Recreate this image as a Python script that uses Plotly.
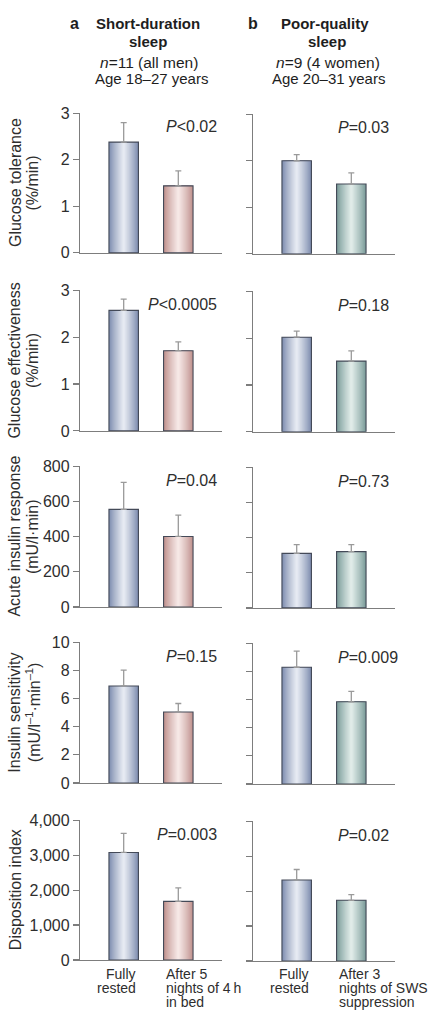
import plotly.graph_objects as go

W, H = 437, 1028
FONT = "Liberation Sans, Arial, sans-serif"
NARROW = "Liberation Sans Narrow, Liberation Sans, Arial, sans-serif"

# ---------------- data ----------------
measures = [
    "Glucose tolerance<br>(%/min)",
    "Glucose effectiveness<br>(%/min)",
    "Acute insulin response<br>(mU/l·min)",
    "Insulin sensitivity<br>(mU/l<sup>–1</sup>·min<sup>–1</sup>)",
    "Disposition index",
]
short_labels = ["Fully\nrested", "After 5\nnights of 4\u2009h\nin bed"]
poor_labels = ["Fully\nrested", "After 3\nnights of SWS\nsuppression"]

short_means = [[2.38, 1.44], [2.57, 1.71], [555, 401], [6.9, 5.05], [3080, 1680]]
short_errs = [[0.42, 0.32], [0.24, 0.19], [153, 121], [1.12, 0.60], [545, 386]]
short_p = ["<i>P</i><0.02", "<i>P</i><0.0005", "<i>P</i>=0.04", "<i>P</i>=0.15", "<i>P</i>=0.003"]

poor_means = [[2.00, 1.50], [2.02, 1.51], [310, 320], [8.3, 5.84], [2320, 1738]]
poor_errs = [[0.13, 0.24], [0.13, 0.22], [50, 40], [1.15, 0.74], [300, 160]]
poor_p = ["<i>P</i>=0.03", "<i>P</i>=0.18", "<i>P</i>=0.73", "<i>P</i>=0.009", "<i>P</i>=0.02"]

y_max = [3, 3, 800, 10, 4000]
y_step = [1, 1, 200, 2, 1000]

# ---------------- style ----------------
ROW_PX = [(107, 249), (287, 430), (466, 609), (645, 788), (826, 968)]
COL_PX = [(80, 222), (253, 395)]
COL_SHIFT = [0, 1]
BAR_W = 0.54
XR = [-0.8, 1.8]
AX = "#7d7d7d"
TXT = "#2e2e2e"
BLUE = ("#7d8cae", "#e6eaf2")
PINK = ("#bf908c", "#f6e8e6")
TEAL = ("#789a98", "#e0ebe8")
OUTLINE = "#444a58"


def rgb(h):
    h = h.lstrip("#")
    return tuple(int(h[i:i + 2], 16) for i in (0, 2, 4))


def mix(a, b, t):
    a, b = rgb(a), rgb(b)
    return "rgb(%d,%d,%d)" % tuple(round(a[i] + (b[i] - a[i]) * t) for i in range(3))


def py(px):
    return 1 - px / H


fig = go.Figure()
annotations = []
N = 14

for col in range(2):
    means_all = short_means if col == 0 else poor_means
    errs_all = short_errs if col == 0 else poor_errs
    p_all = short_p if col == 0 else poor_p
    labels = short_labels if col == 0 else poor_labels
    shades = [BLUE, PINK] if col == 0 else [BLUE, TEAL]
    for r in range(5):
        i = col * 5 + r + 1
        xa = "x" if i == 1 else f"x{i}"
        ya = "y" if i == 1 else f"y{i}"
        means = means_all[r]
        errs = errs_all[r]
        xs = [0, 1]
        # gradient layers
        for k in range(N):
            t = (k / (N - 1)) ** 0.85
            fig.add_trace(go.Bar(
                x=xs, y=means, width=BAR_W * (1 - k / N),
                marker=dict(color=[mix(shades[j][0], shades[j][1], t) for j in range(2)],
                            line=dict(width=0)),
                xaxis=xa, yaxis=ya, showlegend=False, hoverinfo="skip"))
        # outline + error bars
        fig.add_trace(go.Bar(
            x=xs, y=means, width=BAR_W,
            marker=dict(color="rgba(0,0,0,0)", line=dict(color=OUTLINE, width=1.1)),
            error_y=dict(type="data", symmetric=False, array=errs, arrayminus=[0, 0],
                         color="#9a9a9a", thickness=1.3, width=3),
            xaxis=xa, yaxis=ya, showlegend=False, hoverinfo="skip"))

        top, bot = ROW_PX[r]
        top += COL_SHIFT[col]
        bot += COL_SHIFT[col]
        x0, x1 = COL_PX[col]
        fig.layout[f"xaxis{i}"] = dict(
            domain=[x0 / W, x1 / W], range=XR, anchor=ya, showline=True,
            linecolor=AX, linewidth=1.2, showticklabels=False, ticks="",
            showgrid=False, zeroline=False, fixedrange=True)
        fig.layout[f"yaxis{i}"] = dict(
            domain=[py(bot), py(top)], range=[0, y_max[r]], anchor=xa,
            tickmode="linear", tick0=0, dtick=y_step[r],
            tickformat=",d" if y_max[r] >= 1000 else None,
            showline=True, linecolor=AX, linewidth=1.2, ticks="outside",
            ticklen=6, tickcolor=AX, tickwidth=1.2,
            showticklabels=(col == 0), tickfont=dict(family=FONT, size=16, color=TXT),
            showgrid=False, zeroline=False, fixedrange=True)

        # P value
        if col == 0:
            annotations.append(dict(text=p_all[r], xref="paper", yref="paper",
                                    x=219 / W, y=py(top + 14), xanchor="right", yanchor="middle",
                                    showarrow=False, font=dict(family=FONT, size=16, color=TXT)))
        else:
            annotations.append(dict(text=p_all[r], xref="paper", yref="paper",
                                    x=336 / W, y=py(top + 14), xanchor="left", yanchor="middle",
                                    showarrow=False, font=dict(family=FONT, size=16, color=TXT)))
        # y title, one annotation per line
        if col == 0:
            for li, line in enumerate(measures[r].split("<br>")):
                annotations.append(dict(text=line, xref="paper", yref="paper",
                                        x=(15 + li * 17.5) / W, y=py((top + bot) / 2),
                                        xanchor="center", yanchor="middle",
                                        textangle=-90, showarrow=False,
                                        font=dict(family=FONT, size=16, color=TXT)))
        # x labels (bottom row only)
        if r == 4:
            for j, lab in enumerate(labels):
                for li, line in enumerate(lab.split("\n")):
                    annotations.append(dict(
                        text=line, xref=xa, yref="paper",
                        x=(j - BAR_W / 2) if j == 1 else (j + BAR_W / 2),
                        xanchor="left" if j == 1 else "right",
                        y=py(982 + li * 14.6), yanchor="middle", showarrow=False,
                        font=dict(family=FONT, size=14, color=TXT)))

# headers
headers = [
    ("<b>a</b>", 74, 16, 16, FONT),
    ("<b>Short-duration</b>", 148, 16, 15, NARROW),
    ("<b>sleep</b>", 148, 34, 15, NARROW),
    ("<i>n</i>=11 (all men)", 149, 55, 15.5, FONT),
    ("Age 18–27 years", 151, 72, 15, FONT),
    ("<b>b</b>", 253, 16, 16, FONT),
    ("<b>Poor-quality</b>", 325, 16, 15, NARROW),
    ("<b>sleep</b>", 327, 34, 15, NARROW),
    ("<i>n</i>=9 (4 women)", 328, 55, 15.5, FONT),
    ("Age 20–31 years", 328, 72, 15, FONT),
]
for text, x, y, size, fam in headers:
    annotations.append(dict(text=text, xref="paper", yref="paper", x=x / W, y=py(y),
                            xanchor="center", yanchor="middle", showarrow=False,
                            font=dict(family=fam, size=size, color="#1e1e1e")))

fig.update_layout(
    width=W, height=H, margin=dict(l=0, r=0, t=0, b=0),
    paper_bgcolor="white", plot_bgcolor="white",
    barmode="overlay", annotations=annotations,
    font=dict(family=FONT, color=TXT),
)

fig.write_html(
    "out.html",
    config={"displayModeBar": False, "staticPlot": True},
    post_script="document.body.style.margin='0';document.body.style.overflow='hidden';",
)
